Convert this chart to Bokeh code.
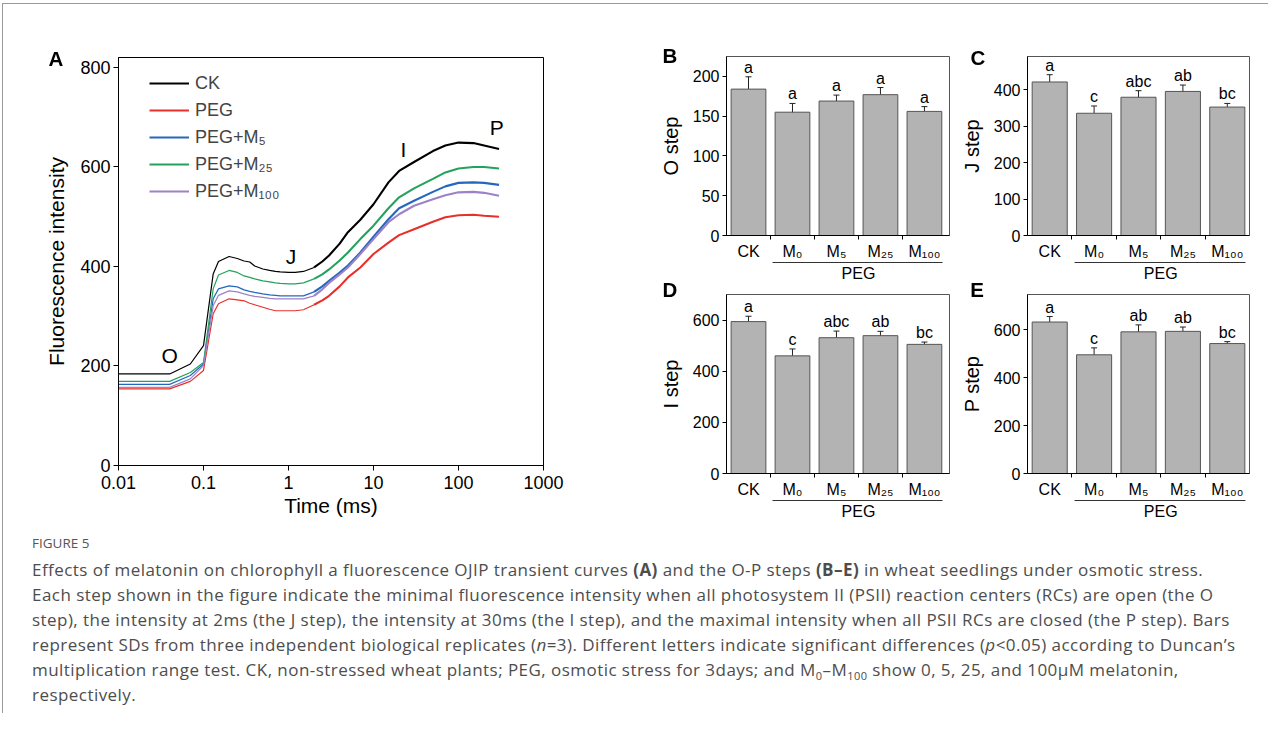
from bokeh.plotting import figure
from bokeh.models import (ColumnDataSource, Label, Legend, LegendItem, FixedTicker, LinearAxis,
                          CustomJSTickFormatter, Whisker, TeeHead, Div, Spacer, Range1d)
from bokeh.layouts import row, column
from bokeh.embed import file_html
from bokeh.resources import INLINE
from bokeh.core.properties import value

FONT = "Liberation Sans"

# ---------------- data: panel A (OJIP transients) ----------------
time_ms = [0.01, 0.04, 0.07, 0.1, 0.13, 0.15, 0.2, 0.25, 0.3, 0.35, 0.4, 0.5, 0.6, 0.7, 0.8,
           1, 1.2, 1.5, 2, 2.5, 3, 4, 5, 7, 10, 15, 20, 30, 50, 70, 100, 150, 200, 300]
ck = [184, 184, 204, 241, 385, 410, 420, 416, 411, 409, 401, 395, 392, 390, 389,
      388, 388, 390, 398, 410, 422, 446, 469, 494, 525, 569, 592, 610, 632, 643, 649, 648, 643, 636]
peg = [154, 154, 169, 191, 305, 325, 335, 333, 331, 326, 323, 318, 314, 311, 311,
       311, 311, 313, 323, 332, 341, 360, 378, 398, 425, 448, 463, 475, 490, 499, 503, 504, 502, 500]
peg_m5 = [163, 163, 181, 204, 335, 355, 361, 359, 353, 350, 348, 345, 343, 342, 341,
          341, 341, 341, 349, 360, 371, 388, 402, 428, 460, 495, 517, 532, 550, 561, 568, 569, 568, 564]
peg_m25 = [169, 169, 187, 207, 355, 383, 392, 388, 381, 378, 375, 371, 369, 367, 366,
           365, 365, 367, 375, 384, 394, 412, 428, 455, 482, 517, 539, 557, 576, 589, 597, 600, 600, 597]
peg_m100 = [157, 157, 174, 201, 321, 342, 351, 349, 345, 342, 340, 338, 336, 335, 335,
            335, 335, 335, 341, 354, 367, 384, 398, 425, 455, 489, 505, 522, 535, 543, 549, 550, 548, 542]
series_names = ["CK", "PEG", "PEG+M₅", "PEG+M₂₅", "PEG+M₁₀₀"]
series_colors = ["#000000", "#e8302a", "#2468bd", "#24a25d", "#9c82c8"]
step_marks = ["O", "J", "I", "P"]
step_t = [0.04, 1.07, 22.5, 282]
step_y = [221, 420, 636, 679]
x_ticks_a = [0.01, 0.1, 1, 10, 100, 1000]
y_ticks_a = [0, 200, 400, 600, 800]

# ---------------- data: panels B-E (steps) ----------------
groups = ["CK", "M₀", "M₅", "M₂₅", "M₁₀₀"]
group_label = "PEG"
o_step = [184, 155, 169, 177, 156]
o_sd = [15.5, 11, 7.5, 9, 6]
o_letters = ["a", "a", "a", "a", "a"]
j_step = [422, 336, 380, 396, 353]
j_sd = [20, 20, 18, 17.5, 10]
j_letters = ["a", "c", "abc", "ab", "bc"]
i_step = [594, 460, 531, 539, 505]
i_sd = [21, 27, 26, 17, 9]
i_letters = ["a", "c", "abc", "ab", "bc"]
p_step = [633, 496, 592, 594, 543]
p_sd = [23, 29, 29, 18, 8]
p_letters = ["a", "c", "ab", "ab", "bc"]
panel_letters = ["A", "B", "C", "D", "E"]


def style_axes(p, tick_fs, label_fs):
    for ax in p.axis:
        ax.axis_line_color = "black"
        ax.axis_line_width = 1
        ax.major_tick_line_color = "black"
        ax.major_tick_in = 0
        ax.major_tick_out = 5
        ax.minor_tick_line_color = None
        ax.major_label_text_font = FONT
        ax.major_label_text_font_size = tick_fs
        ax.major_label_text_color = "black"
        ax.axis_label_text_font = FONT
        ax.axis_label_text_font_size = label_fs
        ax.axis_label_text_font_style = "normal"
        ax.axis_label_text_color = "black"
    p.grid.visible = False


# ---------------- Panel A ----------------
A_FW, A_FH = 425, 408
pA = figure(output_backend="svg", toolbar_location=None, x_axis_type="log",
            x_range=Range1d(0.01, 1000), y_range=Range1d(0, 820),
            frame_width=A_FW, frame_height=A_FH,
            min_border_left=115, min_border_right=49, min_border_top=53, min_border_bottom=69,
            background_fill_color="white", border_fill_color="white")
pA.outline_line_color = "black"
pA.outline_line_width = 1
style_axes(pA, "18px", "21px")
pA.xaxis.ticker = FixedTicker(ticks=x_ticks_a)
pA.xaxis.formatter = CustomJSTickFormatter(code="return tick.toString()")
pA.yaxis.ticker = FixedTicker(ticks=y_ticks_a)
pA.xaxis.axis_label = "Time (ms)"
pA.yaxis.axis_label = "Fluorescence intensity"
pA.xaxis.axis_label_standoff = 2
pA.yaxis.axis_label_standoff = 9
pA.yaxis.major_label_standoff = 3

# early (thin) and noisy late (visually thicker) phases share the point at 2 ms
split = time_ms.index(2) + 1
items = []
for name, col, ys in zip(series_names, series_colors, [ck, peg, peg_m5, peg_m25, peg_m100]):
    pA.line(time_ms[:split], ys[:split], line_color=col, line_width=1.2)
    r = pA.line(time_ms[split - 1:], ys[split - 1:], line_color=col, line_width=2.1)
    items.append(LegendItem(label=name, renderers=[r]))
leg = Legend(items=items, location=(31, 262), glyph_width=40, glyph_height=24,
             label_height=24, spacing=3, label_standoff=6, padding=0, margin=0,
             border_line_color=None, background_fill_alpha=0,
             label_text_font=FONT, label_text_font_size="18px")
pA.add_layout(leg)

for m, t, y in zip(step_marks, step_t, step_y):
    pA.add_layout(Label(x=t, y=y, text=m, text_align="center", text_baseline="middle",
                        text_font=FONT, text_font_size="21px", text_color="black"))


# ---------------- Panels B-E ----------------
def bar_panel(ylabel, vals, sds, letters, ymax, yticks, fw, x_end, mbl, mbr, mbt, mbb, fh=179):
    p = figure(output_backend="svg", toolbar_location=None,
               x_range=Range1d(-0.5, x_end), y_range=Range1d(0, ymax),
               frame_width=fw, frame_height=fh,
               min_border_left=mbl, min_border_right=mbr, min_border_top=mbt, min_border_bottom=mbb,
               background_fill_color="white", border_fill_color="white")
    p.outline_line_color = "#555555"
    style_axes(p, "16px", "20px")
    xs = list(range(len(groups)))
    upper = [v + s for v, s in zip(vals, sds)]
    lower = [v - s for v, s in zip(vals, sds)]
    src = ColumnDataSource(dict(x=xs, top=vals, upper=upper, lower=lower, letter=letters))
    p.vbar(x="x", top="top", width=0.79, source=src, fill_color="#b3b3b3",
           line_color="#555555", line_width=1)
    p.add_layout(Whisker(base="x", upper="upper", lower="lower", source=src,
                         line_color="#222222", line_width=1,
                         upper_head=TeeHead(size=6, line_color="#222222", line_width=1),
                         lower_head=TeeHead(size=6, line_color="#222222", line_width=1)))
    p.text(x="x", y="upper", text="letter", source=src, text_align="center",
           text_baseline="bottom", y_offset=-1, text_font=value(FONT),
           text_font_size="16px", text_color="black")
    p.xaxis.ticker = FixedTicker(ticks=xs, minor_ticks=[0.5, 1.5, 2.5, 3.5])
    p.xaxis.major_label_overrides = {i: g for i, g in enumerate(groups)}
    p.xaxis.major_tick_line_color = None
    p.xaxis.major_tick_out = 4
    p.xaxis.minor_tick_line_color = "black"
    p.xaxis.minor_tick_in = 0
    p.xaxis.minor_tick_out = 4
    p.xaxis.major_label_standoff = 3
    p.yaxis.ticker = FixedTicker(ticks=yticks)
    p.yaxis.major_tick_out = 4
    p.yaxis.major_label_standoff = 3
    p.yaxis.axis_label = ylabel
    p.yaxis.axis_label_standoff = 8
    # PEG group: an extra bounded axis gives the underline and the centred label
    peg_axis = LinearAxis(ticker=FixedTicker(ticks=[2.5]), bounds=(0.55, 4.42),
                          formatter=CustomJSTickFormatter(code='return "%s"' % group_label),
                          axis_line_color="#333333", axis_line_width=1,
                          major_tick_line_color=None, major_tick_in=0, major_tick_out=0,
                          minor_tick_line_color=None, major_label_standoff=2,
                          major_label_text_font=FONT, major_label_text_font_size="16px",
                          major_label_text_color="black")
    p.add_layout(peg_axis, "below")
    return p


pB = bar_panel("O step", o_step, o_sd, o_letters, 225, [0, 50, 100, 150, 200],
               223, 4.57, 134, 3, 52, 57)
pC = bar_panel("J step", j_step, j_sd, j_letters, 492, [0, 100, 200, 300, 400],
               222, 4.5, 75, 19, 52, 57)
pD = bar_panel("I step", i_step, i_sd, i_letters, 700, [0, 200, 400, 600],
               223, 4.57, 134, 3, 2, 61)
pE = bar_panel("P step", p_step, p_sd, p_letters, 748, [0, 200, 400, 600],
               222, 4.5, 75, 19, 2, 61)

# panel letters: fixed-position text (page coordinates of each letter box)
letter_pos = [(41, 49), (655, 46), (963, 48), (655, 280), (962, 280)]
letters_html = "".join(
    '<div style="position:fixed; left:%dpx; top:%dpx; width:30px; text-align:center; '
    "font-family:'Liberation Sans'; font-weight:bold; font-size:20.5px; line-height:20px; "
    'color:#000;">%s</div>' % (lx, ly, t)
    for t, (lx, ly) in zip(panel_letters, letter_pos))

caption_html = letters_html + """
<div style="padding-left:29px; font-family:'Open Sans'; color:#4d4d4d; white-space:nowrap;">
<div style="font-size:13.5px; line-height:16px; margin-top:1px; color:#555555;">FIGURE 5</div>
<div style="font-size:17px; line-height:25px; margin-top:6px; letter-spacing:0.45px;">
Effects of melatonin on chlorophyll a fluorescence OJIP transient curves <b>(A)</b> and the O-P steps <b>(B–E)</b> in wheat seedlings under osmotic stress.<br>
Each step shown in the figure indicate the minimal fluorescence intensity when all photosystem II (PSII) reaction centers (RCs) are open (the O<br>
step), the intensity at 2ms (the J step), the intensity at 30ms (the I step), and the maximal intensity when all PSII RCs are closed (the P step). Bars<br>
represent SDs from three independent biological replicates (<i>n</i>=3). Different letters indicate significant differences (<i>p</i>&lt;0.05) according to Duncan’s<br>
multiplication range test. CK, non-stressed wheat plants; PEG, osmotic stress for 3days; and M<sub style="font-size:11px; line-height:0">0</sub>–M<sub style="font-size:11px; line-height:0">100</sub> show 0, 5, 25, and 100μM melatonin,<br>
respectively.
</div></div>
"""
caption = Div(text=caption_html, width=1265, height=179, margin=(0, 0, 0, 0))

charts = row(pA, column(row(pB, pC), row(pD, pE)))
content = column(charts, caption)

top_line = row(Spacer(width=2, height=1),
               Div(text="", width=1266, height=1, margin=(0, 0, 0, 0),
                   styles={"background-color": "#9a9a9a"}))
body = row(Spacer(width=2, height=709),
           Div(text="", width=1, height=709, margin=(0, 0, 0, 0),
               styles={"background-color": "#9a9a9a"}),
           content)
page = column(Spacer(width=10, height=3), top_line, body)

open("out.html", "w").write(file_html(page, INLINE))
